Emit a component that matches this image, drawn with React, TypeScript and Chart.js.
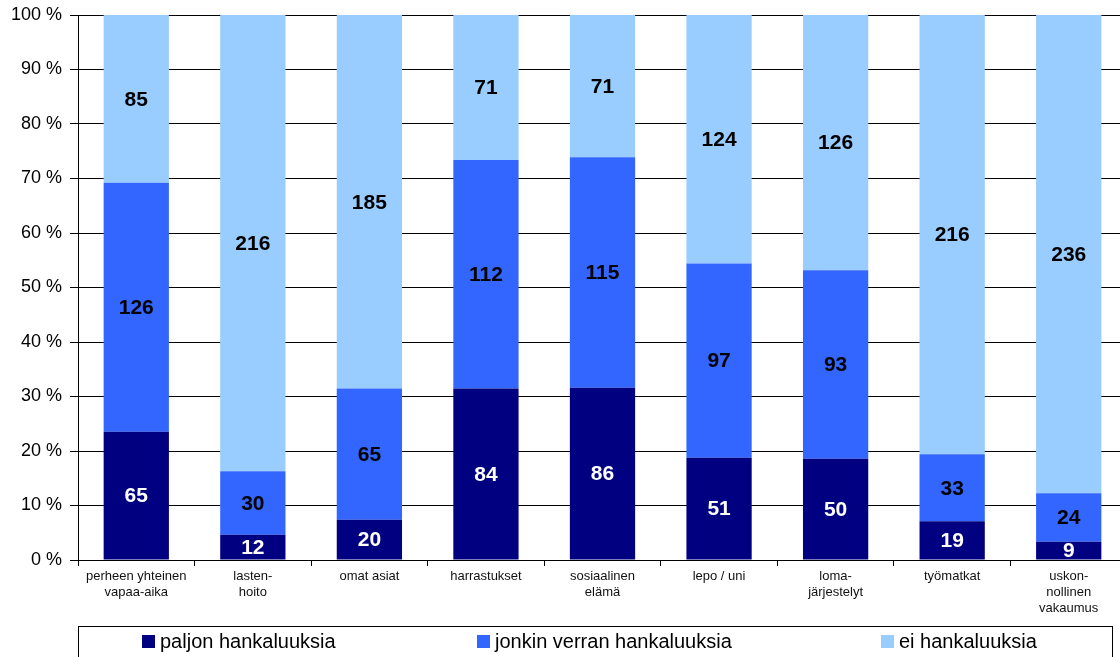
import React, { useEffect, useRef } from "react";
import { Chart, registerables } from "chart.js";

Chart.register(...registerables);

const categories: (string | string[])[] = [
  ["perheen yhteinen", "vapaa-aika"],
  ["lasten-", "hoito"],
  "omat asiat",
  "harrastukset",
  ["sosiaalinen", "elämä"],
  "lepo / uni",
  ["loma-", "järjestelyt"],
  "työmatkat",
  ["uskon-", "nollinen", "vakaumus"],
];

const paljon = [65, 12, 20, 84, 86, 51, 50, 19, 9];
const jonkin = [126, 30, 65, 112, 115, 97, 93, 33, 24];
const ei = [85, 216, 185, 71, 71, 124, 126, 216, 236];

const seriesNames = ["paljon hankaluuksia", "jonkin verran hankaluuksia", "ei hankaluuksia"];
const seriesColors = ["#000080", "#3366FF", "#99CCFF"];
const labelColors = ["#FFFFFF", "#000000", "#000000"];
const yTicks = [0, 10, 20, 30, 40, 50, 60, 70, 80, 90, 100];

const FONT = "'Liberation Sans', Arial, sans-serif";

export default function App() {
  const ref = useRef<HTMLCanvasElement | null>(null);

  useEffect(() => {
    document.body.style.margin = "0";
    document.body.style.overflow = "hidden";
    const counts = [paljon, jonkin, ei];
    const totals = paljon.map((_, i) => paljon[i] + jonkin[i] + ei[i]);
    const pct = counts.map((arr) => arr.map((v, i) => (v / totals[i]) * 100));

    const labelPlugin = {
      id: "countLabels",
      afterDatasetsDraw(chart: any) {
        const ctx = chart.ctx;
        ctx.save();
        ctx.font = `bold 21px ${FONT}`;
        ctx.textAlign = "center";
        ctx.textBaseline = "middle";
        chart.data.datasets.forEach((ds: any, di: number) => {
          const meta = chart.getDatasetMeta(di);
          meta.data.forEach((bar: any, i: number) => {
            const top = Math.min(bar.y, bar.base);
            const bot = Math.max(bar.y, bar.base);
            ctx.fillStyle = labelColors[di];
            ctx.fillText(String(counts[di][i]), bar.x, (top + bot) / 2 + 1);
          });
        });
        ctx.restore();
      },
    };

    const legendPlugin = {
      id: "boxLegend",
      afterDraw(chart: any) {
        const ctx = chart.ctx;
        ctx.save();
        ctx.strokeStyle = "#000000";
        ctx.lineWidth = 1;
        ctx.strokeRect(78.5, 626.5, 1034, 40);
        const xs = [142, 477, 881];
        ctx.font = `20px ${FONT}`;
        ctx.textBaseline = "middle";
        ctx.textAlign = "left";
        xs.forEach((x, i) => {
          ctx.fillStyle = seriesColors[i];
          ctx.fillRect(x, 635, 13, 13);
          ctx.fillStyle = "#000000";
          ctx.fillText(seriesNames[i], x + 18, 642);
        });
        ctx.restore();
      },
    };

    const chart = new Chart(ref.current!, {
      type: "bar",
      data: {
        labels: categories,
        datasets: seriesNames.map((name, i) => ({
          label: name,
          data: pct[i],
          backgroundColor: seriesColors[i],
          borderWidth: 0,
          categoryPercentage: 1,
          barPercentage: 0.56,
        })),
      },
      options: {
        responsive: false,
        animation: false,
        layout: { padding: { top: 15, left: 0, right: 0, bottom: 0 } },
        plugins: {
          legend: { display: false },
          tooltip: { enabled: true },
        },
        scales: {
          x: {
            stacked: true,
            offset: true,
            grid: {
              offset: true,
              drawOnChartArea: false,
              drawTicks: true,
              tickLength: 6,
              color: "#000000",
            },
            border: { display: true, color: "#000000", width: 1 },
            ticks: {
              color: "#111111",
              font: { family: FONT, size: 13 },
              maxRotation: 0,
              autoSkip: false,
              padding: 3,
            },
            afterFit(scale: any) {
              scale.height = 97;
              scale.paddingLeft = 0;
              scale.paddingRight = 0;
            },
          },
          y: {
            stacked: true,
            min: 0,
            max: 100,
            afterBuildTicks(scale: any) {
              scale.ticks = yTicks.map((v) => ({ value: v }));
            },
            grid: {
              color: "#000000",
              lineWidth: 1,
              tickLength: 8,
              drawTicks: true,
            },
            border: { display: true, color: "#000000", width: 1 },
            ticks: {
              color: "#000000",
              font: { family: FONT, size: 18 },
              padding: 8,
              callback: (v: any) => `${v} %`,
            },
            afterFit(scale: any) {
              scale.width = 78;
              scale.paddingTop = 0;
              scale.paddingBottom = 0;
            },
          },
        },
      },
      plugins: [labelPlugin, legendPlugin],
    });
    return () => chart.destroy();
  }, []);

  return (
    <div style={{ width: 1127, height: 657, overflow: "hidden" }}>
      <canvas ref={ref} width={1127} height={657} style={{ display: "block" }} />
    </div>
  );
}
